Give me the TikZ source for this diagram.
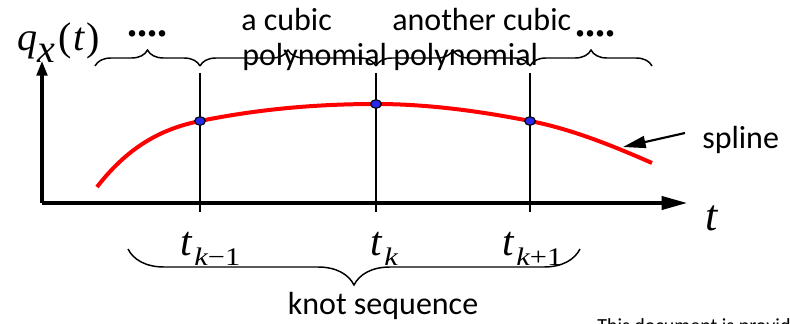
\documentclass[tikz,border=0pt]{standalone}
\usepackage{fontspec}
\setmainfont{Liberation Serif}
\newfontfamily\sfc{Carlito}
\usetikzlibrary{arrows.meta,decorations.pathreplacing,shapes.geometric}
\newcommand{\tsb}[2]{#1\kern2pt\raisebox{-7pt}{\fontsize{19}{19}\selectfont\scalebox{1.2}[1]{#2}}}
\begin{document}
\begin{tikzpicture}[x=0.75pt,y=-0.75pt,
  lbl/.style={font=\sfc\fontsize{24}{24}\selectfont, inner sep=0pt, anchor=base west},
  mth/.style={font=\fontsize{31}{31}\selectfont\itshape, inner sep=0pt, anchor=base west},
  dots/.style={font=\bfseries\fontsize{30}{30}\selectfont, inner sep=0pt, anchor=base west},
  axis/.style={line width=2.3pt},
  knotline/.style={line width=2pt},
  brc/.style={decorate, decoration={brace, amplitude=12pt}, line width=1.1pt},
  bigbrc/.style={decorate, decoration={brace, amplitude=27pt}, line width=1.1pt},
  dot/.style={ellipse, draw=black, line width=0.8pt, fill={rgb,255:red,40;green,40;blue,235}, minimum width=8pt, minimum height=6.5pt, inner sep=0pt},
  splinecurve/.style={red, line width=3pt}]
\useasboundingbox (0,0) rectangle (790,324);
\clip (0,0) rectangle (790,324);

% coordinates
\coordinate (O) at (42,203);
\coordinate (Ytip) at (42,61);
\coordinate (Xtip) at (687,203);
\coordinate (k1top) at (200,73);
\coordinate (k1bot) at (200,212);
\coordinate (k2top) at (376,73);
\coordinate (k2bot) at (376,212);
\coordinate (k3top) at (530,73);
\coordinate (k3bot) at (530,212);

% knot lines
\draw[knotline] (k1top) -- (k1bot);
\draw[knotline] (k2top) -- (k2bot);
\draw[knotline] (k3top) -- (k3bot);

% axes
\draw[axis, -{Triangle[length=11pt,width=8pt]}] (O) -- (Ytip);
\draw[axis, -{Triangle[length=19pt,width=10pt]}] (O) -- (Xtip);

% spline curve
\draw[splinecurve] (97,187) .. controls (131,143) and (166,128) .. (200,121)
  .. controls (259,109) and (317,104) .. (376,104)
  .. controls (427,104) and (479,111) .. (530,121)
  .. controls (571,129) and (611,145) .. (652,163);

% dots
\node[dot] (d1) at (200,121) {};
\node[dot] (d2) at (376,104) {};
\node[dot] (d3) at (530,121) {};

% top braces
\coordinate (b0) at (95,66);
\coordinate (b1) at (200,66);
\coordinate (b2) at (376,66);
\coordinate (b3) at (530,66);
\coordinate (b4) at (652,66);
\draw[brc] (b0) -- (b1);
\draw[brc] (b1) -- (b2);
\draw[brc] (b2) -- (b3);
\draw[brc] (b3) -- (b4);

% bottom brace
\coordinate (bb0) at (128,249);
\coordinate (bb1) at (580,249);
\draw[bigbrc] (bb1) -- (bb0);

% texts
\node[lbl] (ac) at (241,31) {a cubic};
\node[lbl] (p1) at (242,66) {polynomial};
\node[lbl] (anc) at (392,31) {another cubic};
\node[lbl] (p2) at (393,66) {polynomial};
\node[dots] (dl) at (127,37) {....};
\node[dots] (dr) at (575,37) {....};

\node[font=\fontsize{30}{30}\selectfont\itshape, inner sep=0pt, anchor=base west] (q) at (17,51)
  {q\kern0.5pt\raisebox{-9pt}{x}\kern2pt{\upshape(}\kern1pt t\kern1.5pt{\upshape)}};
\node[font=\fontsize{33}{33}\selectfont\itshape, inner sep=0pt, anchor=base west] (tax) at (705,231) {t};

\node[mth] (tkm) at (180,256) {\tsb{t}{k{\upshape −1}}};
\node[mth] (tk) at (370,256) {\tsb{t}{k}};
\node[mth] (tkp) at (502,256) {\tsb{t}{k{\upshape +1}}};

\node[lbl, anchor=base] (ks) at (383,315) {knot sequence};

% spline label and arrow
\node[lbl] (sp) at (702,149) {spline};
\coordinate (sa) at (685,133);
\coordinate (sb) at (623,147);
\draw[line width=1.6pt, -{Triangle[length=17pt,width=9pt]}] (sa) -- (sb);

\node[font=\sfc\fontsize{15}{15}\selectfont, inner sep=0pt, anchor=north west] (doc) at (597,318) {This document is provided};
\end{tikzpicture}
\end{document}
